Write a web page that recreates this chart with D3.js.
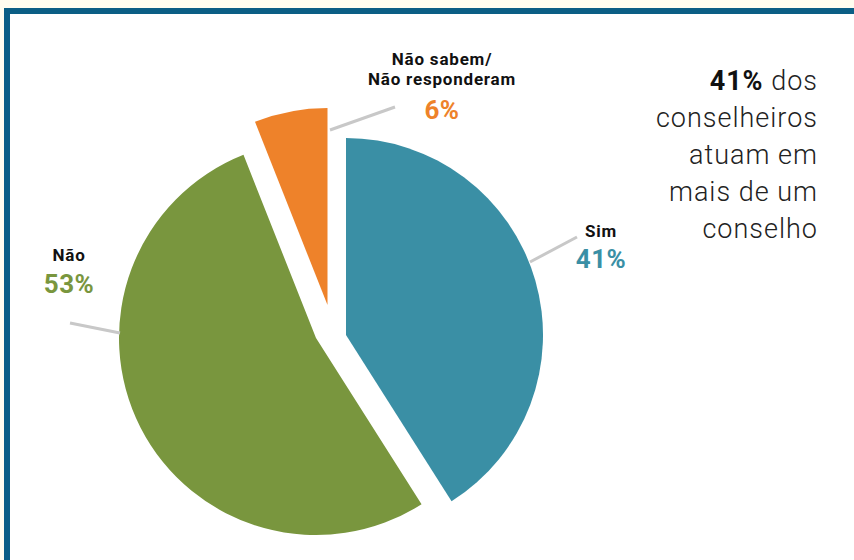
<!DOCTYPE html>
<html>
<head>
<meta charset="utf-8">
<script src="https://cdn.jsdelivr.net/npm/d3@7"></script>
<style>
  body { margin: 0; background: #fffdf0; }
  svg { display: block; }
</style>
</head>
<body>
<div id="chart"></div>
<script>
  'use strict';

  const categories = ['Sim', 'Não', 'Não sabem/\nNão responderam'];
  const values = [41, 53, 6];
  const valueLabels = ['41%', '53%', '6%'];
  const colors = ['#3a8fa5', '#79963e', '#ee822a'];

  const w = 854, h = 560;
  const cx = 334, cy = 338, radius = 197;
  // explode shift for each slice
  const shifts = [[12, -3], [-18, 0], [-6.5, -33]];

  const svg = d3.select('#chart').append('svg')
    .attr('width', w)
    .attr('height', h);

  // frame
  svg.append('rect')
    .attr('x', 7).attr('y', 11)
    .attr('width', 1000).attr('height', 1000)
    .attr('fill', '#fff')
    .attr('stroke', '#0b5e85')
    .attr('stroke-width', 6);

  const pie = d3.pie().sort(null).value(d => d);
  const arc = d3.arc().innerRadius(0).outerRadius(radius);
  const arcs = pie(values);

  const g = svg.append('g').attr('transform', `translate(${cx},${cy})`);

  g.selectAll('path')
    .data(arcs)
    .enter()
    .append('path')
    .attr('transform', (d, i) => `translate(${shifts[i][0]},${shifts[i][1]})`)
    .attr('d', arc)
    .attr('fill', (d, i) => colors[i]);

  // leader lines
  const leaders = [
    [[530, 262], [577, 237]],
    [[70, 323], [120, 333]],
    [[330, 130], [395, 107]]
  ];
  svg.append('g').selectAll('line')
    .data(leaders)
    .enter()
    .append('line')
    .attr('x1', d => d[0][0]).attr('y1', d => d[0][1])
    .attr('x2', d => d[1][0]).attr('y2', d => d[1][1])
    .attr('stroke', '#c8c8c8')
    .attr('stroke-width', 3);

  // labels
  const labelPos = [
    {x: 601, y: 237, py: 268},
    {x: 69, y: 261, py: 293},
    {x: 442, y: 65, py: 119}
  ];
  const labels = svg.append('g')
    .attr('font-family', 'Roboto, "DejaVu Sans", sans-serif')
    .attr('text-anchor', 'middle');

  labels.selectAll('g')
    .data(categories)
    .enter()
    .append('g')
    .each(function (d, i) {
      const sel = d3.select(this);
      const lines = d.split('\n');
      lines.forEach((line, j) => {
        sel.append('text')
          .attr('x', labelPos[i].x)
          .attr('y', labelPos[i].y + j * 20)
          .attr('font-size', 17)
          .attr('font-weight', 700)
          .attr('letter-spacing', 0.8)
          .attr('fill', '#111')
          .text(line);
      });
      sel.append('text')
        .attr('x', labelPos[i].x)
        .attr('y', labelPos[i].py)
        .attr('font-size', 26)
        .attr('font-weight', 700)
        .attr('letter-spacing', 0.5)
        .attr('fill', colors[i])
        .text(valueLabels[i]);
    });

  // note on the right
  const note = ['conselheiros', 'atuam em', 'mais de um', 'conselho'];
  const noteG = svg.append('g')
    .attr('font-family', 'Roboto, "DejaVu Sans", sans-serif')
    .attr('font-size', 27)
    .attr('font-weight', 300)
    .attr('letter-spacing', 1)
    .attr('fill', '#222')
    .attr('text-anchor', 'end');

  const first = noteG.append('text').attr('x', 818).attr('y', 90);
  first.append('tspan').attr('font-weight', 700).attr('fill', '#111').text(valueLabels[0]);
  first.append('tspan').text(' dos');

  noteG.selectAll('text.line')
    .data(note)
    .enter()
    .append('text')
    .attr('class', 'line')
    .attr('x', 818)
    .attr('y', (d, i) => 127 + i * 37)
    .text(d => d);
</script>
</body>
</html>
